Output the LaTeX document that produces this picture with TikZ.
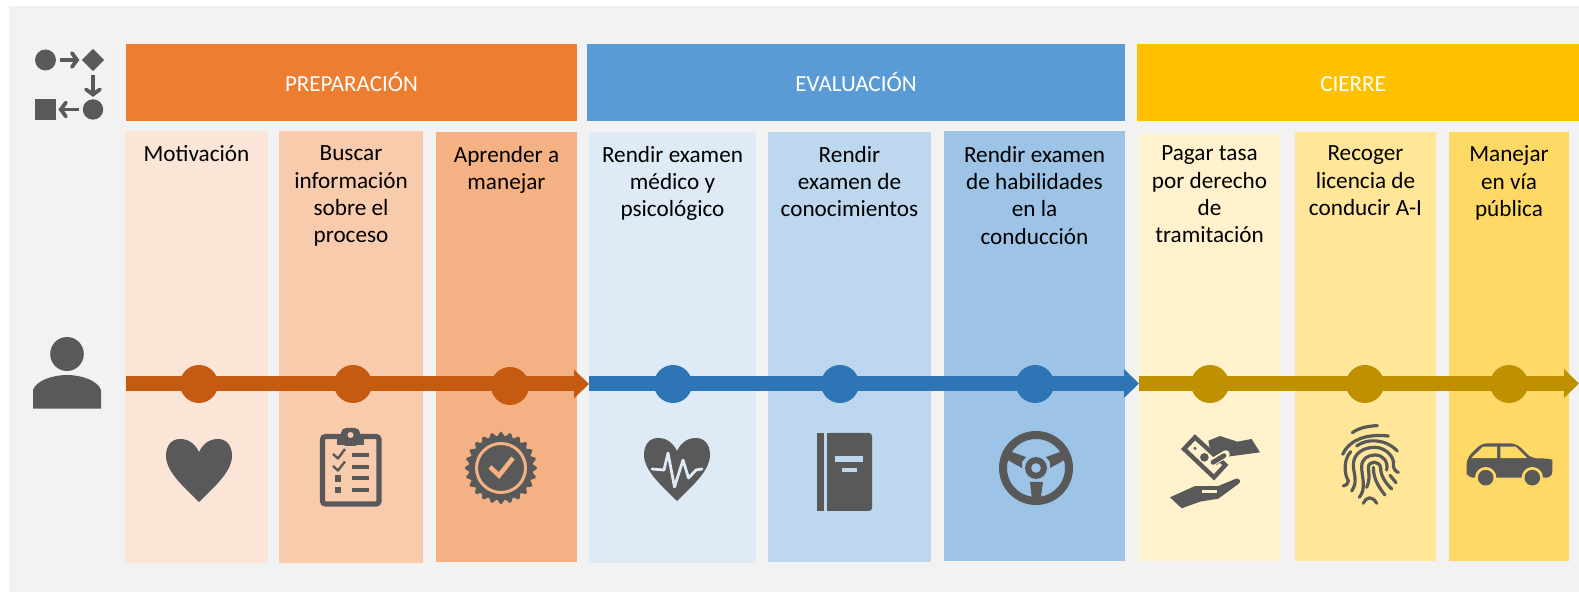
\documentclass[tikz,border=0pt]{standalone}
\usepackage{fontspec}
\setmainfont{Carlito}
\usetikzlibrary{arrows.meta,shapes.geometric}
\definecolor{pagegrey}{HTML}{F2F2F2}
\definecolor{icongrey}{HTML}{595959}
\definecolor{oH}{HTML}{ED7D31}\definecolor{oA}{HTML}{FBE5D6}\definecolor{oB}{HTML}{F8CBAD}\definecolor{oC}{HTML}{F4B183}\definecolor{oL}{HTML}{C55A11}
\definecolor{bH}{HTML}{5B9BD5}\definecolor{bA}{HTML}{DEEBF7}\definecolor{bB}{HTML}{BDD7EE}\definecolor{bC}{HTML}{9DC3E6}\definecolor{bL}{HTML}{2E75B6}
\definecolor{yH}{HTML}{FFC000}\definecolor{yA}{HTML}{FFF2CC}\definecolor{yB}{HTML}{FFE699}\definecolor{yC}{HTML}{FFD966}\definecolor{yL}{HTML}{BF9000}
\tikzset{
  headtext/.style={text=white,font=\fontsize{11.5}{13}\selectfont,inner sep=0pt,anchor=base},
  coltext/.style={text=black,font=\fontsize{11.6}{13.7}\selectfont,align=center,anchor=north,inner sep=0pt},
  dot/.style={circle,inner sep=0pt,minimum size=19pt,draw=none},
  flowshape/.style={fill=icongrey,draw=none,inner sep=0pt},
  flowarrow/.style={draw=icongrey,line width=1.9pt,shorten <=1.8pt,shorten >=1pt,-{Straight Barb[length=2.6pt,width=7pt,line cap=round]}},
  phaseline/.style={line width=7.5pt,-{Triangle[length=7.5pt,width=14pt]}},
  iconline/.style={draw=icongrey,line cap=round,line join=round},
  fine/.style={shift={(#1)},x=0.16667pt,y=-0.16667pt}
}
\newcommand{\phasebox}[6]{\fill[#5] (#2,44) rectangle (#3,121);
  \node[headtext] (#1) at (#4,92) {#6};}
\newcommand{\colbox}[7]{\fill[#6] (#2,#3) rectangle (#4,#5);
  \node[coltext] (#1) at ({(#2+#4)/2},145.5) {#7};}
\newcommand{\heartshape}{(199,502) .. controls (185,488) and (166,472) .. (166,456)
  .. controls (166,445) and (172,439) .. (180,439) .. controls (189,439) and (195,444) .. (199,452)
  .. controls (203,444) and (209,439) .. (218,439) .. controls (226,439) and (232,445) .. (232,456)
  .. controls (232,472) and (213,488) .. (199,502) -- cycle}
\begin{document}
\begin{tikzpicture}[x=0.5pt,y=-0.5pt]
\useasboundingbox (0,0) rectangle (1579,592);
\fill[pagegrey] (9,6) rectangle (1579,592);

% phase headers
\phasebox{prep}{126}{577}{351.5}{oH}{PREPARACIÓN}
\phasebox{eval}{587}{1125}{856}{bH}{EVALUACIÓN}
\phasebox{cierre}{1137}{1579}{1353}{yH}{CIERRE}

% columns
\colbox{c1}{125}{131}{268}{562.7}{oA}{Motivación}
\colbox{c2}{279}{131}{423}{562.7}{oB}{Buscar\\información\\sobre el\\proceso}
\colbox{c3}{436}{132}{577}{561.7}{oC}{Aprender a\\manejar}
\colbox{c4}{589}{132}{756}{562.7}{bA}{Rendir examen\\médico y\\psicológico}
\colbox{c5}{768}{132}{931}{561.7}{bB}{Rendir\\examen de\\conocimientos}
\colbox{c6}{944}{131}{1125}{560.7}{bC}{Rendir examen\\de habilidades\\en la\\conducción}
\colbox{c7}{1139}{134}{1280}{561.5}{yA}{Pagar tasa\\por derecho\\de\\tramitación}
\colbox{c8}{1295}{132}{1436}{561}{yB}{Recoger\\licencia de\\conducir A-I}
\colbox{c9}{1449}{132}{1569}{561}{yC}{Manejar\\en vía\\pública}

% process icon
\node[flowshape,circle,minimum size=10.5pt] (f1) at (45.5,60) {};
\node[flowshape,diamond,shape aspect=1,minimum size=11.2pt] (f2) at (93,60) {};
\node[flowshape,circle,minimum size=10.2pt] (f3) at (93,109.5) {};
\node[flowshape,rectangle,minimum size=10.5pt] (f4) at (45.5,109.5) {};
\draw[flowarrow] (f1) -- (f2);
\draw[flowarrow] (f2) -- (f3);
\draw[flowarrow] (f3) -- (f4);

% person
\fill[icongrey] (67,354) ellipse [x radius=16.8,y radius=17];
\fill[icongrey] (33,408.7) -- (33,390) .. controls (36,381) and (52,375) .. (67,375) .. controls (82,375) and (98,381) .. (101,390) -- (101,408.7) -- cycle;

% phase arrows with their dots
\coordinate (pa) at (126,384);\coordinate (pb) at (589,384);
\coordinate (ea) at (589,383.5);\coordinate (eb) at (1139,383.5);
\coordinate (ya) at (1139,383.5);\coordinate (yb) at (1579,383.5);
\draw[phaseline,draw=oL,fill=oL] (pa) -- (pb);
\draw[phaseline,draw=bL,fill=bL] (ea) -- (eb);
\draw[phaseline,draw=yL,fill=yL] (ya) -- (yb);
\node[dot,fill=oL] (d1) at (199,384) {};
\node[dot,fill=oL] (d2) at (353,384) {};
\node[dot,fill=oL] (d3) at (510,386) {};
\node[dot,fill=bL] (d4) at (673,384) {};
\node[dot,fill=bL] (d5) at (840,384) {};
\node[dot,fill=bL] (d6) at (1035,384) {};
\node[dot,fill=yL] (d7) at (1210,384) {};
\node[dot,fill=yL] (d8) at (1365,384) {};
\node[dot,fill=yL] (d9) at (1509,384) {};

% heart
\fill[icongrey] \heartshape;

% clipboard
\draw[icongrey,line width=2.6pt,rounded corners=1.5pt] (322.5,436.5) rectangle (379,504);
\fill[icongrey] (337,437) rectangle (364,445.5);
\fill[icongrey,rounded corners=2.5pt] (341,446) -- (341,428) -- (360,428) -- (360,446) -- cycle;
\fill[oB] (350.5,435) circle [radius=3];
\draw[iconline,line width=1.2pt,line cap=butt] (333,454) -- (338,458.5) -- (345,449);
\draw[iconline,line width=1.2pt,line cap=butt] (333,466) -- (338,470.5) -- (345,461.5);
\fill[icongrey] (335,475) rectangle (341,482);
\fill[icongrey] (335,487) rectangle (341,493.5);
\foreach \yy in {455,467,478,490} \fill[icongrey] (352,\yy-2) rectangle (369,\yy+2);

% seal
\fill[icongrey] plot[domain=0:360,samples=241] ({501+(34+2*cos(24*\x))*cos(\x)},{468+(34+2*cos(24*\x))*sin(\x)}) -- cycle;
\draw[oC,line width=1.5pt] (501,468) circle [radius=24.5];
\draw[oC,line width=2.3pt,line join=miter] (490,467) -- (499,475.5) -- (513,458);

% cardiac heart
\begin{scope}[shift={(478,-1)}]
\fill[icongrey] \heartshape;
\end{scope}
\draw[bA,line width=1.4pt,line join=round,line cap=round] (652,469) -- (664,470) -- (668,453) -- (674.5,487) -- (683,460) -- (688.5,478) -- (696,470) -- (702,469);

% book
\fill[icongrey] (817,433) rectangle (824,511);
\fill[icongrey,rounded corners=1.5pt] (827,433) -- (872,433) -- (872,511) -- (827,511) -- cycle;
\fill[icongrey] (827,433) rectangle (835,511);
\fill[bB] (835,456) rectangle (863,462.5);
\fill[bB] (842,468) rectangle (857,472);

% steering wheel
\draw[icongrey,line width=4pt] (1036,468) circle [radius=33];
\fill[icongrey] (1030,482) -- (1043,482) -- (1040.5,500) -- (1032,500) -- cycle;
\fill[icongrey] (1012,452) -- (1026,457) -- (1022,462) -- (1022,468) -- (1007.5,460) -- (1005,450) -- cycle;
\fill[icongrey] (1060,452) -- (1046,457) -- (1050,462) -- (1050,468) -- (1064.5,460) -- (1067,450) -- cycle;
\fill[icongrey] (1036,468) circle [radius=11];
\fill[bC] (1036,468) circle [radius=4.8];

% money hands
\begin{scope}[fine={1150,410}]
\draw[icongrey,line width=2.2pt,line join=miter] (102,117) -- (135,82) -- (226,165) -- (192,202) -- cycle;
\fill[icongrey] (163,142) circle [radius=13];
\fill[icongrey] (135,115) circle [radius=5];
\fill[icongrey] (175,92) -- (210,78) -- (262,95) -- (305,87) -- (330,127) -- (232,140) -- (200,165) -- (180,120) -- cycle;
\draw[yA,line width=3.8pt,line cap=round] (186,157) -- (228,132);
\draw[icongrey,line width=2.4pt,line cap=round] (189,157) -- (222,137);
\fill[icongrey] (60,262) -- (135,228) -- (205,228) -- (258,206) .. controls (268,204) and (276,214) .. (265,222) -- (205,266) -- (150,275) -- (95,295) -- cycle;
\draw[yA,line width=1.6pt] (155,245) -- (200,245);
\end{scope}

% fingerprint
\begin{scope}[fine={1320,410},iconline/.append style={line width=1.6pt}]
\draw[iconline] (97,68) .. controls (115,55) and (140,48) .. (172,47);
\draw[iconline] (68,133) .. controls (85,95) and (130,70) .. (205,78);
\draw[iconline] (110,108) .. controls (140,85) and (195,85) .. (232,123);
\draw[iconline] (92,125) .. controls (70,150) and (72,190) .. (85,213) .. controls (85,222) and (78,226) .. (70,228);
\draw[iconline] (95,243) .. controls (115,215) and (100,190) .. (100,165) .. controls (100,130) and (130,112) .. (165,112) .. controls (195,112) and (225,140) .. (220,165) .. controls (220,175) and (226,185) .. (235,187);
\draw[iconline] (118,262) .. controls (140,235) and (125,200) .. (125,170) .. controls (125,145) and (145,135) .. (165,135) .. controls (190,135) and (205,155) .. (200,180);
\draw[iconline] (140,232) .. controls (152,205) and (145,185) .. (145,172) .. controls (145,152) and (180,150) .. (182,175) .. controls (182,200) and (200,222) .. (215,237);
\draw[iconline] (160,172) .. controls (160,205) and (175,230) .. (195,255);
\draw[iconline] (210,196) -- (228,218);
\draw[iconline] (130,280) .. controls (140,258) and (158,258) .. (170,280);
\end{scope}

% car
\begin{scope}[fine={1466.33,340}]
\fill[icongrey,rounded corners=3pt] (1,400) -- (1,355) -- (45,310) -- (150,310) -- (195,355) -- (240,355) .. controls (250,357) and (258,365) .. (258,378) -- (258,413) -- (2,413) -- cycle;
\fill[yC] (15,354) -- (50,320) -- (92,320) -- (92,354) -- cycle;
\fill[yC] (102,320) -- (148,320) -- (182,354) -- (102,354) -- cycle;
\fill[yC] (58,413) circle [radius=32];
\fill[yC] (198,413) circle [radius=32];
\fill[icongrey] (58,413) circle [radius=23.5];
\fill[icongrey] (198,413) circle [radius=23.5];
\end{scope}
\end{tikzpicture}
\end{document}
